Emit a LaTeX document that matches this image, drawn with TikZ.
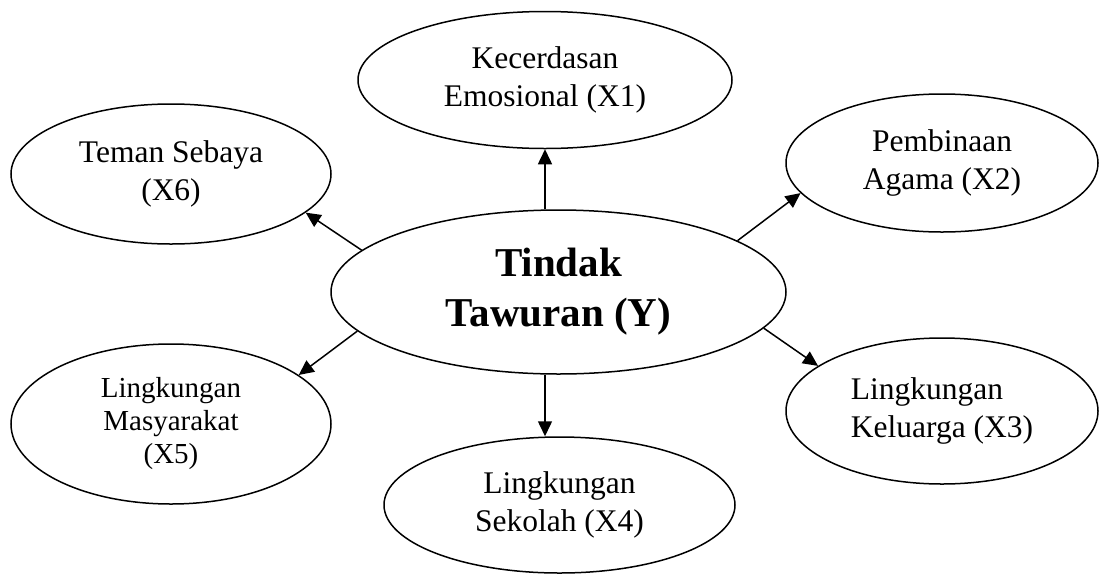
\documentclass[tikz,border=0pt]{standalone}
\usepackage{fontspec}
\setmainfont{Liberation Serif}
\usetikzlibrary{shapes.geometric,arrows.meta}
\begin{document}
\begin{tikzpicture}[x=1pt,y=-1pt,
  ell/.style={draw=black,ellipse,line width=1.5pt,inner sep=0pt,align=center,
    font=\fontsize{31.5}{38}\selectfont},
  conn/.style={line width=1.5pt,-{Triangle[length=15pt,width=14pt]}}]
\useasboundingbox (0,0) rectangle (1100,574);
\node[ell,minimum width=455pt,minimum height=164pt,
  font=\fontsize{41}{50}\selectfont\bfseries] (Y) at (558.5,292) {Tindak\\Tawuran (Y)};
\node[ell,minimum width=374pt,minimum height=137pt] (X1) at (545,80) {Kecerdasan\\Emosional (X1)};
\node[ell,minimum width=312pt,minimum height=138pt] (X2) at (942,163) {Pembinaan\\Agama (X2)};
\node[ell,minimum width=312pt,minimum height=146pt,align=left] (X3) at (942,411) {Lingkungan\\Keluarga (X3)};
\node[ell,minimum width=351pt,minimum height=136pt] (X4) at (559.5,505) {Lingkungan\\Sekolah (X4)};
\node[ell,minimum width=320pt,minimum height=160pt,
  font=\fontsize{29}{33}\selectfont] (X5) at (171,424) {Lingkungan\\Masyarakat\\(X5)};
\node[ell,minimum width=320pt,minimum height=140pt] (X6) at (171,174) {Teman Sebaya\\(X6)};
\draw[conn] (X1.south |- Y.north) -- (X1.south);
\draw[conn] (X1.south |- Y.south) -- (X1.south |- X4.north);
\draw[conn] (Y.16.2) -- (X2.192.9);
\draw[conn] (Y.-10.6) -- (X3.160.6);
\draw[conn] (Y.191.4) -- (X5.21.3);
\draw[conn] (Y.168.9) -- (X6.-16);
\end{tikzpicture}
\end{document}
